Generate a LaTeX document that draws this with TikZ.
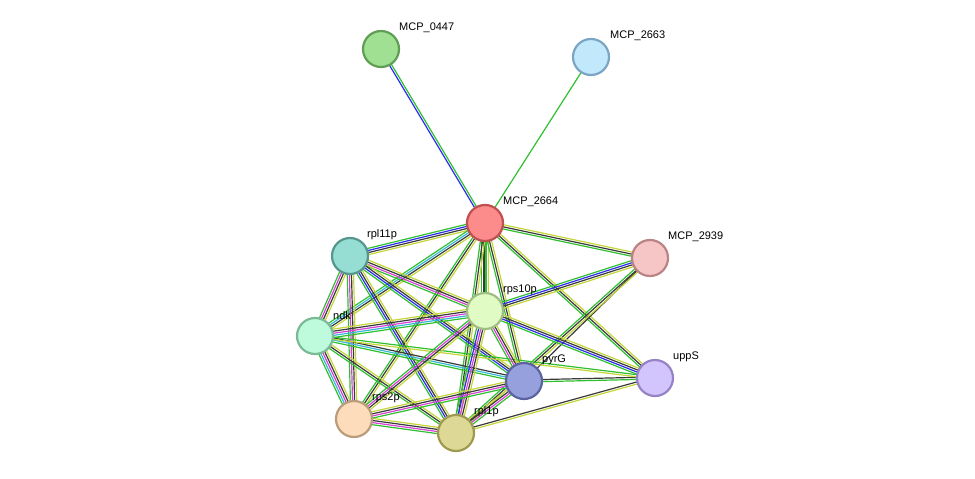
\documentclass[tikz,border=0pt]{standalone}
\usepackage{fontspec}
\setmainfont{Liberation Sans}
\usetikzlibrary{calc,backgrounds}
\definecolor{eg}{HTML}{2FC02F}
\definecolor{eb}{HTML}{2C2CF0}
\definecolor{ek}{HTML}{3A3A3A}
\definecolor{ey}{HTML}{C4D63A}
\definecolor{em}{HTML}{D642D6}
\definecolor{ec}{HTML}{38B8D8}
\tikzset{
  prot/.style={circle,draw,line width=2.2pt,minimum size=36pt,inner sep=0pt},
  lab/.style={anchor=south west,font=\fontsize{11}{12}\selectfont,inner sep=1pt},
  ln/.style={line width=1.2pt}
}
\newcommand{\myedge}[4]{% a b n colors
  \foreach \cl [count=\i] in {#4} {
    \pgfmathsetmacro{\off}{(\i-(#3+1)/2)*2.1}
    \draw[ln,draw=\cl] ($(#1)!\off pt!90:(#2)$) -- ($(#2)!\off pt!-90:(#1)$);
  }}
\begin{document}
\begin{tikzpicture}[x=1pt,y=-1pt]
\useasboundingbox (0,0) rectangle (975,479);
\node[prot,fill={rgb,255:red,160;green,224;blue,146},draw={rgb,255:red,96;green,158;blue,86}] (a0447) at (381,49) {};
\node[prot,fill={rgb,255:red,194;green,232;blue,252},draw={rgb,255:red,122;green,166;blue,196}] (a2663) at (591,57) {};
\node[prot,fill={rgb,255:red,252;green,140;blue,140},draw={rgb,255:red,192;green,80;blue,80}] (a2664) at (485,223) {};
\node[prot,fill={rgb,255:red,246;green,198;blue,198},draw={rgb,255:red,186;green,132;blue,132}] (a2939) at (650,258) {};
\node[prot,fill={rgb,255:red,150;green,222;blue,212},draw={rgb,255:red,86;green,150;blue,140}] (rpl11p) at (350,256) {};
\node[prot,fill={rgb,255:red,224;green,252;blue,196},draw={rgb,255:red,160;green,190;blue,130}] (rps10p) at (485,311) {};
\node[prot,fill={rgb,255:red,190;green,250;blue,220},draw={rgb,255:red,124;green,186;blue,150}] (ndk) at (315,336) {};
\node[prot,fill={rgb,255:red,150;green,160;blue,220},draw={rgb,255:red,90;green,100;blue,160}] (pyrG) at (524,381) {};
\node[prot,fill={rgb,255:red,210;green,196;blue,252},draw={rgb,255:red,150;green,130;blue,196}] (uppS) at (655,378) {};
\node[prot,fill={rgb,255:red,252;green,220;blue,186},draw={rgb,255:red,186;green,156;blue,124}] (rps2p) at (354,419) {};
\node[prot,fill={rgb,255:red,222;green,216;blue,150},draw={rgb,255:red,160;green,154;blue,80}] (rpl1p) at (456,433) {};
\node[lab] (l0447) at (398,34) {MCP\_0447};
\node[lab] (l2663) at (609,42) {MCP\_2663};
\node[lab] (l2664) at (502,208) {MCP\_2664};
\node[lab] (l2939) at (667,243) {MCP\_2939};
\node[lab] (lrpl11p) at (366,241) {rpl11p};
\node[lab] (lrps10p) at (502,296) {rps10p};
\node[lab] (lndk) at (332,321) {ndk};
\node[lab] (lpyrG) at (541,366) {pyrG};
\node[lab] (luppS) at (672,363) {uppS};
\node[lab] (lrps2p) at (371,404) {rps2p};
\node[lab] (lrpl1p) at (473,418) {rpl1p};
\begin{pgfonlayer}{background}
\myedge{a2664}{a0447}{2}{eg,eb}
\myedge{a2664}{a2663}{1}{eg}
\myedge{a2664}{rpl11p}{4}{eg,eb,ek,ey}
\myedge{a2664}{ndk}{4}{eg,ec,ek,ey}
\myedge{a2664}{rps2p}{3}{eg,ek,ey}
\myedge{a2664}{rps10p}{4}{eg,ek,eg,ey}
\myedge{a2664}{rpl1p}{3}{eg,ek,ey}
\myedge{a2664}{pyrG}{3}{eg,ek,ey}
\myedge{a2664}{uppS}{3}{eg,ek,ey}
\myedge{a2664}{a2939}{3}{eg,ek,ey}
\myedge{a2939}{rps10p}{4}{eg,eb,ek,ey}
\myedge{a2939}{pyrG}{1}{ek}
\myedge{a2939}{rpl1p}{3}{eg,ek,ey}
\myedge{rps10p}{uppS}{4}{eg,eb,ek,ey}
\myedge{pyrG}{uppS}{2}{eg,ek}
\myedge{rpl1p}{uppS}{2}{ey,ek}
\myedge{rpl11p}{rps10p}{4}{eg,em,ek,ey}
\myedge{rpl11p}{pyrG}{4}{eg,eb,ek,ey}
\myedge{rpl11p}{rpl1p}{4}{eg,eb,ek,ey}
\myedge{rpl11p}{ndk}{4}{eg,em,ek,ey}
\myedge{rpl11p}{rps2p}{4}{eg,em,ek,ey}
\myedge{ndk}{rps10p}{5}{eg,ec,em,ek,ey}
\myedge{ndk}{pyrG}{3}{eg,ec,ek}
\myedge{ndk}{rps2p}{5}{eg,ec,em,ek,ey}
\myedge{ndk}{rpl1p}{3}{eg,ek,ey}
\myedge{ndk}{uppS}{2}{ey,eg}
\myedge{rps10p}{rps2p}{4}{eg,em,ek,ey}
\myedge{rps10p}{rpl1p}{5}{eg,eb,em,ek,ey}
\myedge{rps10p}{pyrG}{4}{eg,em,ek,ey}
\myedge{rps2p}{rpl1p}{4}{eg,em,ek,ey}
\myedge{rps2p}{pyrG}{4}{eg,em,ek,ey}
\myedge{rpl1p}{pyrG}{4}{eg,em,ek,ey}
\end{pgfonlayer}
\end{tikzpicture}
\end{document}
